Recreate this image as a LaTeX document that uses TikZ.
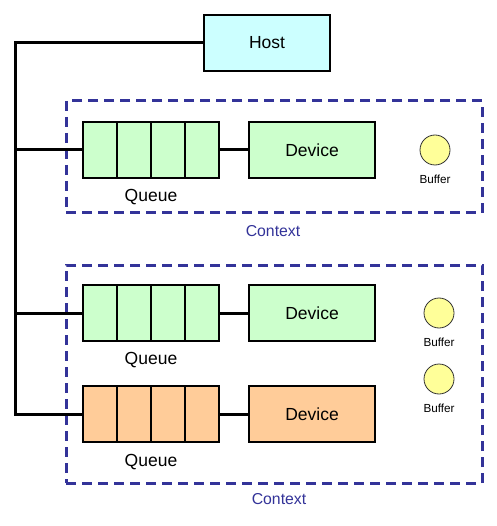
\documentclass[tikz,border=0pt]{standalone}
\usepackage{fontspec}
\setmainfont{Liberation Sans}
\definecolor{hostc}{HTML}{CCFFFF}
\definecolor{greenc}{HTML}{CCFFCC}
\definecolor{orangec}{HTML}{FFCC99}
\definecolor{bufc}{HTML}{FFFF99}
\definecolor{ctxc}{HTML}{333399}
\begin{document}
\begin{tikzpicture}[x=1pt,y=-1pt,
  box/.style={draw=black,line width=1.2pt,minimum width=126pt,minimum height=56pt,inner sep=0pt,font=\fontsize{17.5}{20}\selectfont},
  cell/.style={draw=black,line width=1.2pt,minimum width=34pt,minimum height=56pt,inner sep=0pt,outer sep=0pt},
  buf/.style={circle,draw=black!80,line width=0.8pt,fill=bufc,minimum size=30pt,inner sep=0pt},
  buflbl/.style={font=\fontsize{11.7}{13}\selectfont},
  qlbl/.style={font=\fontsize{17.5}{20}\selectfont},
  ctx/.style={draw=ctxc,line width=3pt,dash pattern=on 10pt off 6pt},
  ctxlbl/.style={text=ctxc,font=\fontsize{15.8}{18}\selectfont},
  bus/.style={line width=3pt,black}]
\useasboundingbox (0,0) rectangle (496,526);
\fill[white] (0,0) rectangle (496,526);

% contexts
\node[ctx,minimum width=416pt,minimum height=112pt,inner sep=0pt] (ctx1) at (274,157) {};
\node[ctx,minimum width=416pt,minimum height=218pt,inner sep=0pt] (ctx2) at (274,374) {};
\node[ctxlbl] (ctx1l) at (273,231) {Context};
\node[ctxlbl] (ctx2l) at (279,499) {Context};

% host
\node[box,fill=hostc] (host) at (267,43) {Host};

% queue 1
\foreach \i in {0,1,2,3}{
  \node[cell,fill=greenc] (qa\i) at ({100+34*\i},150) {};
}
\node[box,fill=greenc] (dev1) at (312,150) {Device};
\node[qlbl] (ql1) at (151,197) {Queue};
\node[buf] (b1) at (435,150) {};
\node[buflbl] (b1l) at (435,179) {Buffer};

% queue 2
\foreach \i in {0,1,2,3}{
  \node[cell,fill=greenc] (qb\i) at ({100+34*\i},313) {};
}
\node[box,fill=greenc] (dev2) at (312,313) {Device};
\node[qlbl] (ql2) at (151,360) {Queue};
\node[buf] (b2) at (439,313) {};
\node[buflbl] (b2l) at (439,342) {Buffer};

% queue 3
\foreach \i in {0,1,2,3}{
  \node[cell,fill=orangec] (qc0\i) at ({100+34*\i},414) {};
}
\node[box,fill=orangec] (dev3) at (312,414) {Device};
\node[qlbl] (ql3) at (151,462) {Queue};
\node[buf] (b3) at (439,379) {};
\node[buflbl] (b3l) at (439,408) {Buffer};

% bus
\coordinate (top) at (15,43);
\coordinate (j1) at (15,150);
\coordinate (j2) at (15,313);
\coordinate (bot) at (15,414);
\draw[bus] (host.west) -- (top) -- (bot) -- (qc00.west);
\draw[bus] (j1) -- (qa0.west);
\draw[bus] (j2) -- (qb0.west);
\draw[bus] (qa3.east) -- (dev1.west);
\draw[bus] (qb3.east) -- (dev2.west);
\draw[bus] (qc03.east) -- (dev3.west);
\end{tikzpicture}
\end{document}
